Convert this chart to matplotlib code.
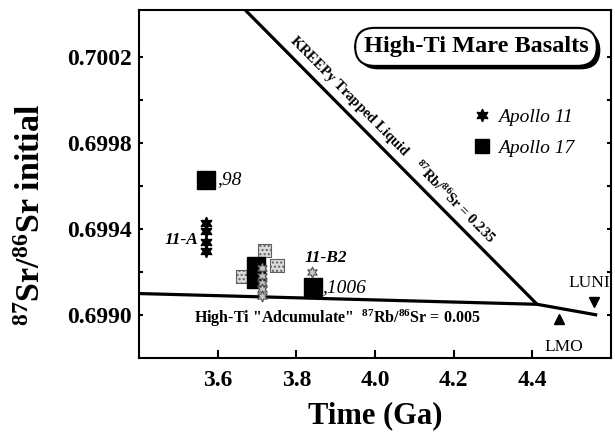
import matplotlib
matplotlib.use("Agg")
import matplotlib.pyplot as plt
import matplotlib.patheffects as pe
from matplotlib.lines import Line2D
from matplotlib.ticker import FixedLocator

# Apollo 11 (black stars) and other Apollo 11 points (grey stars)
a11_x = [3.570, 3.570, 3.570, 3.570]
a11_y = [0.69943, 0.69939, 0.69934, 0.69930]
a11g_x = [3.713, 3.713, 3.713, 3.713, 3.713, 3.840]
a11g_y = [0.69922, 0.69918, 0.69915, 0.69912, 0.69909, 0.69920]

# Apollo 17 (black squares) and grey squares
a17_x = [3.570, 3.697, 3.697, 3.842]
a17_y = [0.69963, 0.69923, 0.69917, 0.69913]
a17g_x = [3.720, 3.751, 3.664]
a17g_y = [0.69930, 0.69923, 0.69918]

# model lines
adcum_x = [3.40, 4.412, 4.565]
adcum_y = [0.69910, 0.69905, 0.69900]
kreep_x = [3.67, 4.412]
kreep_y = [0.70042, 0.69905]

luni = (4.557, 0.69906)
lmo = (4.468, 0.69898)

xticks = [3.6, 3.8, 4.0, 4.2, 4.4]
xlabels = ["3.6", "3.8", "4.0", "4.2", "4.4"]
yticks = [0.6990, 0.6994, 0.6998, 0.7002]
ylabels = ["0.6990", "0.6994", "0.6998", "0.7002"]
yminor = [0.6992, 0.6996, 0.7000]

plt.rcParams.update({
    "font.family": "Liberation Serif",
    "font.weight": "bold",
    "axes.labelweight": "bold",
    "mathtext.fontset": "custom",
    "mathtext.rm": "Liberation Serif:bold",
    "mathtext.it": "Liberation Serif:italic:bold",
    "mathtext.bf": "Liberation Serif:bold",
})

fig = plt.figure(figsize=(6.15, 4.32), dpi=100)
ax = fig.add_axes([0.226, 0.1713, 0.7675, 0.8056])

ax.plot(adcum_x, adcum_y, color="black", lw=2.3, solid_capstyle="butt", zorder=2)
ax.plot(kreep_x, kreep_y, color="black", lw=2.3, solid_capstyle="butt", zorder=2)

star = (6, 1, 0)
ax.scatter(a17g_x, a17g_y, marker="s", s=90, facecolor="#dcdcdc", edgecolor="#606060",
           hatch="....", linewidths=0.8, zorder=3)
ax.plot(a17_x, a17_y, ls="none", marker="s", ms=13, color="black", zorder=4)
ax.plot(a11g_x, a11g_y, ls="none", marker=star, ms=8, mfc="#c4c4c4", mec="#505050",
        mew=0.8, zorder=5)
ax.plot(a11_x, a11_y, ls="none", marker=star, ms=9, color="black", zorder=5)

ax.plot(*luni, marker="v", ms=7, color="black", clip_on=False, zorder=5)
ax.plot(*lmo, marker="^", ms=7, color="black", clip_on=False, zorder=5)

# labels on points
ax.text(3.60, 0.69963, ",98", fontsize=14, style="italic", weight="normal", va="center")
ax.text(3.552, 0.69935, "11-A", fontsize=12.5, style="italic", ha="right", va="center")
ax.text(3.82, 0.699265, "11-B2", fontsize=12.5, style="italic", va="center")
ax.text(3.865, 0.69913, ",1006", fontsize=14, style="italic", weight="normal", va="center")
ax.text(4.491, 0.699149, "LUNI", fontsize=12.5, weight="normal", va="center", clip_on=False)
ax.text(4.432, 0.698851, "LMO", fontsize=12.5, weight="normal", va="center")

ax.text(3.54, 0.698986, 'High-Ti "Adcumulate"  $^{87}$Rb/$^{86}$Sr = 0.005',
        fontsize=11.5, va="center")
ax.text(4.043, 0.699814, "KREEPy Trapped Liquid    $^{87}$Rb/$^{86}$Sr = 0.235",
        fontsize=10.5, rotation=-45.3, rotation_mode="anchor", ha="center", va="center")

t = ax.text(0.714, 0.894, "High-Ti Mare Basalts", transform=ax.transAxes, fontsize=17.5,
            ha="center", va="center",
            bbox=dict(boxstyle="round,pad=0.35,rounding_size=0.8", fc="white",
                      ec="black", lw=1.5))
t.get_bbox_patch().set_path_effects([
    pe.withSimplePatchShadow(offset=(2.5, -2.5), shadow_rgbFace="black", alpha=1.0)])

handles = [
    Line2D([], [], ls="none", marker=star, ms=9, color="black"),
    Line2D([], [], ls="none", marker="s", ms=10, color="black"),
]
leg = ax.legend(handles, ["Apollo 11", "Apollo 17"], loc="upper left",
                bbox_to_anchor=(0.69, 0.745), frameon=False, handlelength=0.8,
                handletextpad=0.4, labelspacing=0.7, borderpad=0,
                prop={"family": "Liberation Serif", "style": "italic",
                      "weight": "normal", "size": 14})

ax.set_xlim(3.4, 4.6)
ax.set_ylim(0.6988, 0.70042)
ax.set_xticks(xticks, xlabels)
ax.set_yticks(yticks, ylabels)
ax.yaxis.set_minor_locator(FixedLocator(yminor))
ax.tick_params(axis="x", direction="in", length=6, width=1.5, labelsize=17, pad=9)
ax.tick_params(axis="y", which="both", direction="in", length=3, width=1.5,
               labelsize=17, pad=5, right=True)
for sp in ax.spines.values():
    sp.set_linewidth(1.5)

ax.set_xlabel("Time (Ga)", fontsize=22, fontweight="bold")
ax.set_ylabel("$^{87}$Sr/$^{86}$Sr initial", fontsize=24.5, fontweight="bold")
ax.xaxis.set_label_coords(0.5, -0.125)
ax.yaxis.set_label_coords(-0.195, 0.41)

fig.savefig("out.png", dpi=100)
